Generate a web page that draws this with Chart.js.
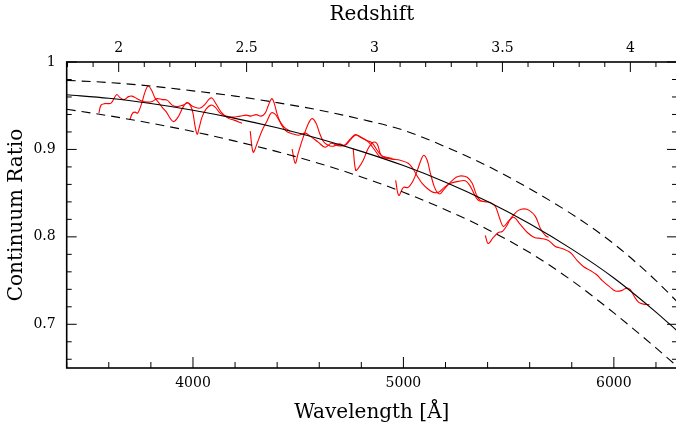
<!DOCTYPE html>
<html><head><meta charset="utf-8">
<script src="https://cdn.jsdelivr.net/npm/chart.js@4.4.1/dist/chart.umd.min.js"></script>
<style>html,body{margin:0;padding:0;background:#fff;overflow:hidden}</style>
</head><body>
<canvas id="c" width="677" height="425" style="display:block;width:677px;height:425px"></canvas>
<script>
// ---- axes ----
const LYA = 1215.67;
const xMin = 3400, xMax = 6300;
const yMin = 0.65, yMax = 1.0;
const xMajorTicks = [4000, 5000, 6000];
const xMinorStep = 200;
const zMajorTicks = [2, 2.5, 3, 3.5, 4];
const yMajorTicks = [0.7, 0.8, 0.9, 1.0];

// ---- model curves ----
const wlGrid      = [3400, 3600, 3800, 4000, 4200, 4400, 4600, 4800, 5000, 5200, 5400, 5600, 5800, 6000, 6200, 6300];
const ratioModel  = [0.9625, 0.9585, 0.9525, 0.9448, 0.9355, 0.9247, 0.9122, 0.8978, 0.8815, 0.8625, 0.8405, 0.8150, 0.7860, 0.7530, 0.7140, 0.6926];
const ratioUpper  = [0.979, 0.9765, 0.9725, 0.967, 0.961, 0.9535, 0.945, 0.9345, 0.922, 0.903, 0.881, 0.855, 0.826, 0.792, 0.750, 0.726];
const ratioLower  = [0.946, 0.9385, 0.930, 0.9205, 0.9095, 0.8975, 0.884, 0.8685, 0.851, 0.831, 0.8085, 0.782, 0.750, 0.713, 0.673, 0.652];

// ---- measured spectrum pieces ----
const seg1Wl = [3553,3563,3582,3611,3637,3653,3672,3694,3710,3734,3758,3782,3806,3829,3853,3877,3901,3924,3953,3977,4000,4034,4058,4077,4091,4110,4134,4167,4195,4233];
const seg1Ratio = [.9415,.9507,.9524,.9530,.9627,.9593,.9570,.9604,.9610,.9581,.9553,.9541,.9547,.9581,.9570,.9564,.9507,.9490,.9507,.9530,.9490,.9473,.9519,.9576,.9587,.9519,.9427,.9358,.9335,.9300];

const seg2Wl = [3701,3713,3725,3737,3756,3772,3787,3803,3820,3837,3853,3874,3891,3908,3929,3953,3972,3989,4000,4010,4020,4029,4043,4062,4086,4105,4129,4157,4191,4224,4253,4276,4300,4324,4343,4357,4374,4386,4400,4419,4443,4471,4500,4533,4557,4595,4628,4657,4690,4723,4747,4771,4795,4833,4852,4871,4890,4918,4947,4985,5023,5047,5066,5089,5118,5142,5166,5194,5223,5261,5294,5318,5337,5356,5384];
const seg2Ratio = [.9347,.9415,.9427,.9415,.9524,.9656,.9725,.9679,.9587,.9536,.9484,.9427,.9358,.9318,.9369,.9484,.9536,.9496,.9415,.9266,.9174,.9243,.9369,.9461,.9507,.9484,.9415,.9381,.9369,.9381,.9392,.9381,.9398,.9381,.9415,.9496,.9581,.9530,.9404,.9289,.9209,.9180,.9163,.9186,.9152,.9083,.9025,.9071,.9043,.9048,.9106,.9163,.9146,.9088,.9031,.8968,.8911,.8899,.8888,.8876,.8842,.8773,.8693,.8612,.8544,.8509,.8509,.8566,.8612,.8635,.8641,.8578,.8486,.8417,.8405];

const seg3Wl = [4272,4286,4305,4329,4352,4371,4390,4409,4433,4462];
const seg3Ratio = [.9209,.8968,.9071,.9220,.9324,.9415,.9404,.9335,.9255,.9209];

const seg4Wl = [4471,4486,4500,4524,4547,4566,4585,4600,4619,4642,4666,4695,4719,4747,4771,4795,4823,4852,4875,4899,4928,4961];
const seg4Ratio = [.9003,.8842,.8957,.9140,.9289,.9352,.9300,.9197,.9094,.9048,.9037,.9065,.9048,.9117,.9169,.9140,.9106,.9071,.8991,.8922,.8899,.8888];

const seg5Wl = [4761,4773,4785,4809,4833,4857,4875,4894,4918,4947];
const seg5Ratio = [.9014,.8761,.8784,.8876,.9014,.9083,.9065,.8934,.8911,.8899];

const seg6Wl = [4963,4978,5000,5023,5047,5066,5085,5097,5113,5127,5146,5161,5175,5189,5223,5251,5275,5303,5327,5346,5365,5394,5413,5437,5456,5475,5498,5522,5546,5574,5598,5627,5651,5674,5689];
const seg6Ratio = [.8647,.8474,.8566,.8566,.8647,.8761,.8888,.8934,.8876,.8738,.8578,.8509,.8492,.8532,.8624,.8681,.8698,.8681,.8612,.8486,.8417,.8400,.8394,.8348,.8222,.8119,.8176,.8245,.8303,.8320,.8303,.8234,.8096,.8016,.7993];

const seg7Wl = [5389,5403,5427,5451,5470,5489,5508,5527,5555,5589,5622,5655,5689,5722,5755,5793,5826,5855,5888,5917,5945,5979,6007,6036,6060,6078,6097,6117,6140,6169];
const seg7Ratio = [.8016,.7924,.7993,.8050,.8062,.8119,.8199,.8222,.8142,.8050,.7993,.7982,.7959,.7890,.7867,.7821,.7729,.7661,.7615,.7569,.7500,.7431,.7380,.7385,.7414,.7397,.7317,.7254,.7231,.7225];

// ---- build ----
const zip = (xs, ys) => xs.slice(0, Math.min(xs.length, ys.length)).map((v, i) => ({x: v, y: ys[i]}));
const redPieces = [[seg1Wl,seg1Ratio],[seg2Wl,seg2Ratio],[seg3Wl,seg3Ratio],[seg4Wl,seg4Ratio],[seg5Wl,seg5Ratio],[seg6Wl,seg6Ratio],[seg7Wl,seg7Ratio]];

const datasets = [
  {data: zip(wlGrid, ratioModel), borderColor: '#000', borderWidth: 1.1, cubicInterpolationMode: 'monotone'},
  {data: zip(wlGrid, ratioUpper), borderColor: '#000', borderWidth: 1.1, borderDash: [9, 6], cubicInterpolationMode: 'monotone'},
  {data: zip(wlGrid, ratioLower), borderColor: '#000', borderWidth: 1.1, borderDash: [9, 6], cubicInterpolationMode: 'monotone'},
  ...redPieces.map(([w, r]) => ({data: zip(w, r), borderColor: '#ff0000', borderWidth: 1.1, tension: 0.35}))
].map(d => Object.assign({showLine: true, pointRadius: 0, fill: false}, d));

const zMin = xMin / LYA - 1, zMax = xMax / LYA - 1;
const tickFont = {family: 'DejaVu Serif', size: 14};
const titleFont = {family: 'DejaVu Serif', size: 20};

const frameTicks = {
  id: 'frameTicks',
  afterDraw(chart) {
    const {ctx, chartArea: a, scales} = chart;
    const sx = scales.x, sz = scales.x2, sy = scales.y;
    ctx.save();
    ctx.strokeStyle = '#000';
    const line = (x1, y1, x2, y2) => { ctx.beginPath(); ctx.moveTo(x1, y1); ctx.lineTo(x2, y2); ctx.stroke(); };
    ctx.lineWidth = 1;
    for (let v = xMin; v <= xMax; v += xMinorStep) {
      const p = sx.getPixelForValue(v);
      line(p, a.bottom, p, a.bottom - (xMajorTicks.includes(v) ? 11 : 6));
    }
    for (let i = Math.ceil(zMin * 10); i <= Math.floor(zMax * 10); i++) {
      const p = sz.getPixelForValue(i / 10);
      line(p, a.top, p, a.top + (i % 5 === 0 ? 10 : 5));
    }
    for (let i = 66; i <= 100; i += 2) {
      const p = sy.getPixelForValue(i / 100);
      const len = i % 10 === 0 ? 10 : 5;
      line(a.left, p, a.left + len, p);
      line(a.right, p, a.right - len, p);
    }
    ctx.lineWidth = 1.6;
    ctx.strokeRect(a.left, a.top, a.right - a.left, a.bottom - a.top);
    ctx.restore();
  }
};

new Chart(document.getElementById('c'), {
  type: 'scatter',
  data: {datasets},
  options: {
    responsive: false,
    animation: false,
    layout: {padding: 0},
    plugins: {legend: {display: false}, tooltip: {enabled: false}},
    scales: {
      x: {
        type: 'linear', position: 'bottom', min: xMin, max: xMax,
        grid: {display: false, drawTicks: false}, border: {display: false},
        afterBuildTicks: s => { s.ticks = xMajorTicks.map(v => ({value: v})); },
        afterFit: s => { s.height = 57; },
        ticks: {font: tickFont, color: '#000', padding: 7, maxRotation: 0, callback: v => String(v)},
        title: {display: true, text: 'Wavelength [Å]', font: titleFont, color: '#000', padding: {top: 5, bottom: 0}}
      },
      x2: {
        type: 'linear', position: 'top', min: zMin, max: zMax,
        grid: {display: false, drawTicks: false}, border: {display: false},
        afterBuildTicks: s => { s.ticks = zMajorTicks.map(v => ({value: v})); },
        afterFit: s => { s.height = 62; },
        ticks: {font: tickFont, color: '#000', padding: 5, maxRotation: 0, callback: v => String(v)},
        title: {display: true, text: 'Redshift', font: titleFont, color: '#000', padding: {top: 3, bottom: 0}}
      },
      y: {
        type: 'linear', position: 'left', min: yMin, max: yMax,
        grid: {display: false, drawTicks: false}, border: {display: false},
        afterBuildTicks: s => { s.ticks = yMajorTicks.map(v => ({value: v})); },
        afterFit: s => { s.width = 66.7; },
        ticks: {font: tickFont, color: '#000', padding: 11, callback: v => String(v)},
        title: {display: true, text: 'Continuum Ratio', font: titleFont, color: '#000', padding: {top: 5, bottom: 0}}
      }
    }
  },
  plugins: [frameTicks]
});
</script>
</body></html>
